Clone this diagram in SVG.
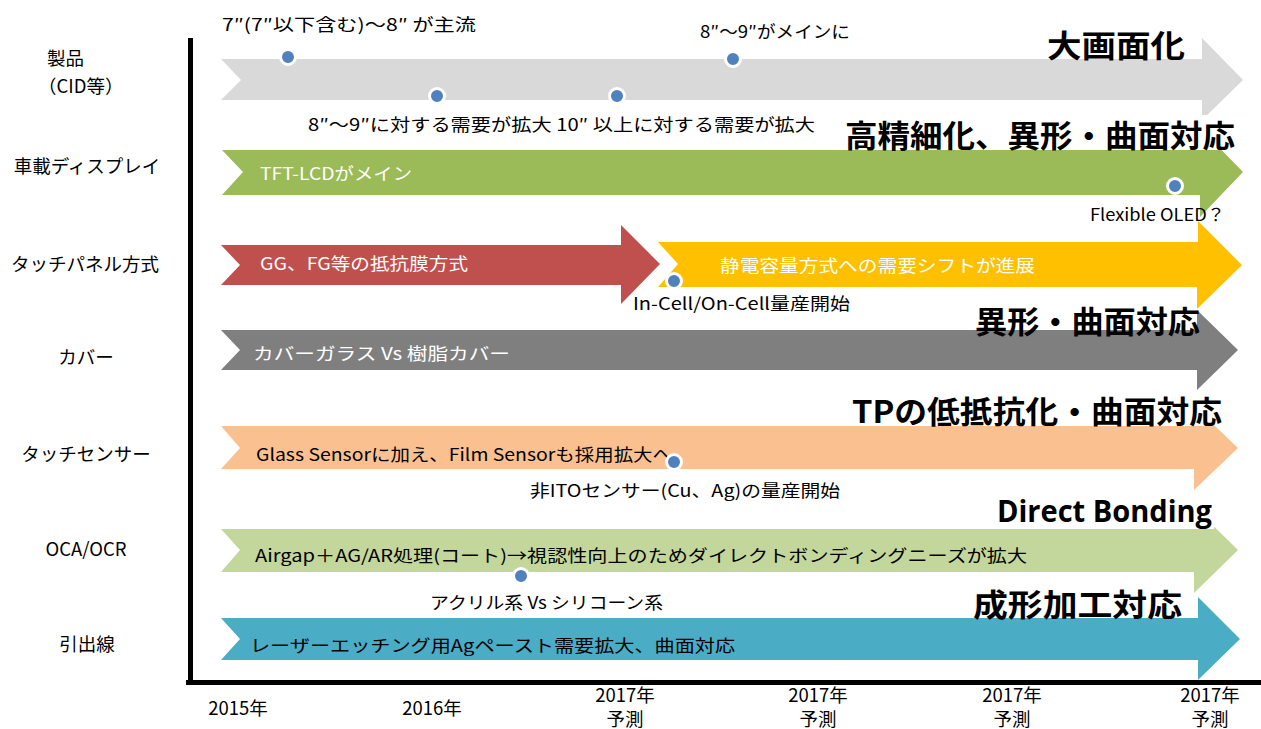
<svg xmlns="http://www.w3.org/2000/svg" width="1261" height="729" viewBox="0 0 1261 729">
<style>
text{font-family:"Noto Sans CJK JP","Noto Sans",sans-serif;}
.lab{font-size:18.5px;fill:#000;}
.lbl{font-size:17px;fill:#000;}
.wt{font-size:17px;fill:#fff;}
.big{font-size:31px;font-weight:bold;fill:#000;}
.yr{font-size:18.5px;fill:#000;text-anchor:middle;}
.dot{fill:#4F81BD;stroke:#fff;stroke-width:3;}
.wb{fill:#fff;}
</style>
<rect width="1261" height="729" fill="#fff"/>

<g id="arrows">
<polygon id="a-product" fill="#D9D9D9" points="221,59 1202,59 1202,38 1243,80 1202,120 1202,100 221,100 241,80"/>
<polygon id="a-display" fill="#9BBB59" points="222,150 1200,150 1200,128 1243,172 1200,217 1200,195 222,195 243,172"/>
<polygon id="a-resist" fill="#C0504D" points="221,245 621,245 621,225 660,264 621,304 621,285 221,285 240,265"/>
<polygon id="a-cap" fill="#FFC000" points="658,242 1197,242 1197,220 1242,265 1197,309 1197,287 658,287 678,264"/>
<polygon id="a-cover" fill="#7F7F7F" points="221,330 1197,330 1197,310 1238,350 1197,390 1197,370 221,370 240,350"/>
<polygon id="a-sensor" fill="#FAC090" points="221,426 1194,426 1194,406 1238,448 1194,490 1194,469 221,469 240,448"/>
<polygon id="a-oca" fill="#C3D69B" points="221,529 1194,529 1194,507 1238,550 1194,593 1194,572 221,572 240,550"/>
<polygon id="a-lead" fill="#4BACC6" points="221,618 1198,618 1198,597 1240,639 1198,680 1198,660 221,660 240,639"/>
</g>

<g id="axes">
<line x1="190.5" y1="38" x2="190.5" y2="685" stroke="#000" stroke-width="5"/>
<line x1="186" y1="682.5" x2="1261" y2="682.5" stroke="#000" stroke-width="5"/>
</g>

<g id="row-labels">
<text class="lab" x="47" y="65">製品</text>
<text class="lab" x="38" y="93">（CID等）</text>
<text class="lab" x="87" y="173" text-anchor="middle">車載ディスプレイ</text>
<text class="lab" x="85" y="271" text-anchor="middle">タッチパネル方式</text>
<text class="lab" x="86" y="364" text-anchor="middle">カバー</text>
<text class="lab" x="86" y="461" text-anchor="middle">タッチセンサー</text>
<text class="lab" x="86" y="556" text-anchor="middle">OCA/OCR</text>
<text class="lab" x="87" y="651" text-anchor="middle">引出線</text>
</g>

<g id="titles">
<rect class="wb" x="1040" y="26" width="162" height="33"/>
<text class="big" x="1047" y="57" textLength="138" lengthAdjust="spacingAndGlyphs">大画面化</text>
<rect class="wb" x="840" y="115" width="400" height="35"/>
<text class="big" x="845" y="147" textLength="390" lengthAdjust="spacingAndGlyphs">高精細化、異形・曲面対応</text>
<rect class="wb" x="970" y="302" width="227" height="28"/>
<text class="big" x="975" y="333" textLength="225" lengthAdjust="spacingAndGlyphs">異形・曲面対応</text>
<rect class="wb" x="848" y="392" width="378" height="34"/>
<text class="big" x="852" y="423" textLength="370" lengthAdjust="spacingAndGlyphs">TPの低抵抗化・曲面対応</text>
<rect class="wb" x="992" y="494" width="222" height="35"/>
<text class="big" x="997" y="522" style="font-family:'Open Sans','Liberation Sans',sans-serif" font-size="28" textLength="215" lengthAdjust="spacingAndGlyphs">Direct Bonding</text>
<rect class="wb" x="968" y="585" width="222" height="33"/>
<text class="big" x="973" y="616" textLength="209" lengthAdjust="spacingAndGlyphs">成形加工対応</text>
<rect class="wb" x="1085" y="195" width="113" height="47"/>
</g>

<g id="notes">
<text class="lbl" x="222" y="31" textLength="254" lengthAdjust="spacingAndGlyphs">7″(7″以下含む)～8″ が主流</text>
<text class="lbl" x="700" y="38" textLength="150" lengthAdjust="spacingAndGlyphs">8″～9″がメインに</text>
<text class="lbl" x="308" y="131" textLength="507" lengthAdjust="spacingAndGlyphs">8″～9″に対する需要が拡大 10″ 以上に対する需要が拡大</text>
<text class="wt" x="260" y="180" textLength="152" lengthAdjust="spacingAndGlyphs">TFT-LCDがメイン</text>
<text class="lbl" x="1090" y="221" textLength="135" lengthAdjust="spacingAndGlyphs">Flexible OLED？</text>
<text class="wt" x="260" y="270" textLength="208" lengthAdjust="spacingAndGlyphs">GG、FG等の抵抗膜方式</text>
<text class="wt" x="720" y="272" textLength="315" lengthAdjust="spacingAndGlyphs">静電容量方式への需要シフトが進展</text>
<text class="lbl" x="633" y="310" textLength="217" lengthAdjust="spacingAndGlyphs">In-Cell/On-Cell量産開始</text>
<text class="wt" x="253" y="360" textLength="257" lengthAdjust="spacingAndGlyphs">カバーガラス  Vs 樹脂カバー</text>
<text class="lbl" x="256" y="461" textLength="416" lengthAdjust="spacingAndGlyphs">Glass Sensorに加え、Film Sensorも採用拡大へ</text>
<text class="lbl" x="530" y="497" textLength="310" lengthAdjust="spacingAndGlyphs">非ITOセンサー(Cu、Ag)の量産開始</text>
<text class="lbl" x="255" y="562" textLength="772" lengthAdjust="spacingAndGlyphs">Airgap＋AG/AR処理(コート)→視認性向上のためダイレクトボンディングニーズが拡大</text>
<text class="lbl" x="430" y="609" textLength="233" lengthAdjust="spacingAndGlyphs">アクリル系 Vs シリコーン系</text>
<text class="lbl" x="250" y="652" textLength="485" lengthAdjust="spacingAndGlyphs">レーザーエッチング用Agペースト需要拡大、曲面対応</text>
</g>

<g id="milestones">
<circle class="dot" cx="288" cy="57" r="7.5"/>
<circle class="dot" cx="437" cy="96" r="7.5"/>
<circle class="dot" cx="617" cy="96" r="7.5"/>
<circle class="dot" cx="733" cy="59" r="7.5"/>
<circle class="dot" cx="1175" cy="186" r="7.5"/>
<circle class="dot" cx="674" cy="281" r="7.5"/>
<circle class="dot" cx="674" cy="462" r="7.5"/>
<circle class="dot" cx="521" cy="576" r="7.5"/>
</g>

<g id="years">
<text class="yr" x="238" y="715">2015年</text>
<text class="yr" x="432" y="715">2016年</text>
<text class="yr" x="625" y="702">2017年</text>
<text class="yr" x="625" y="726">予測</text>
<text class="yr" x="818" y="702">2017年</text>
<text class="yr" x="818" y="726">予測</text>
<text class="yr" x="1012" y="702">2017年</text>
<text class="yr" x="1012" y="726">予測</text>
<text class="yr" x="1210" y="702">2017年</text>
<text class="yr" x="1210" y="726">予測</text>
</g>
</svg>
